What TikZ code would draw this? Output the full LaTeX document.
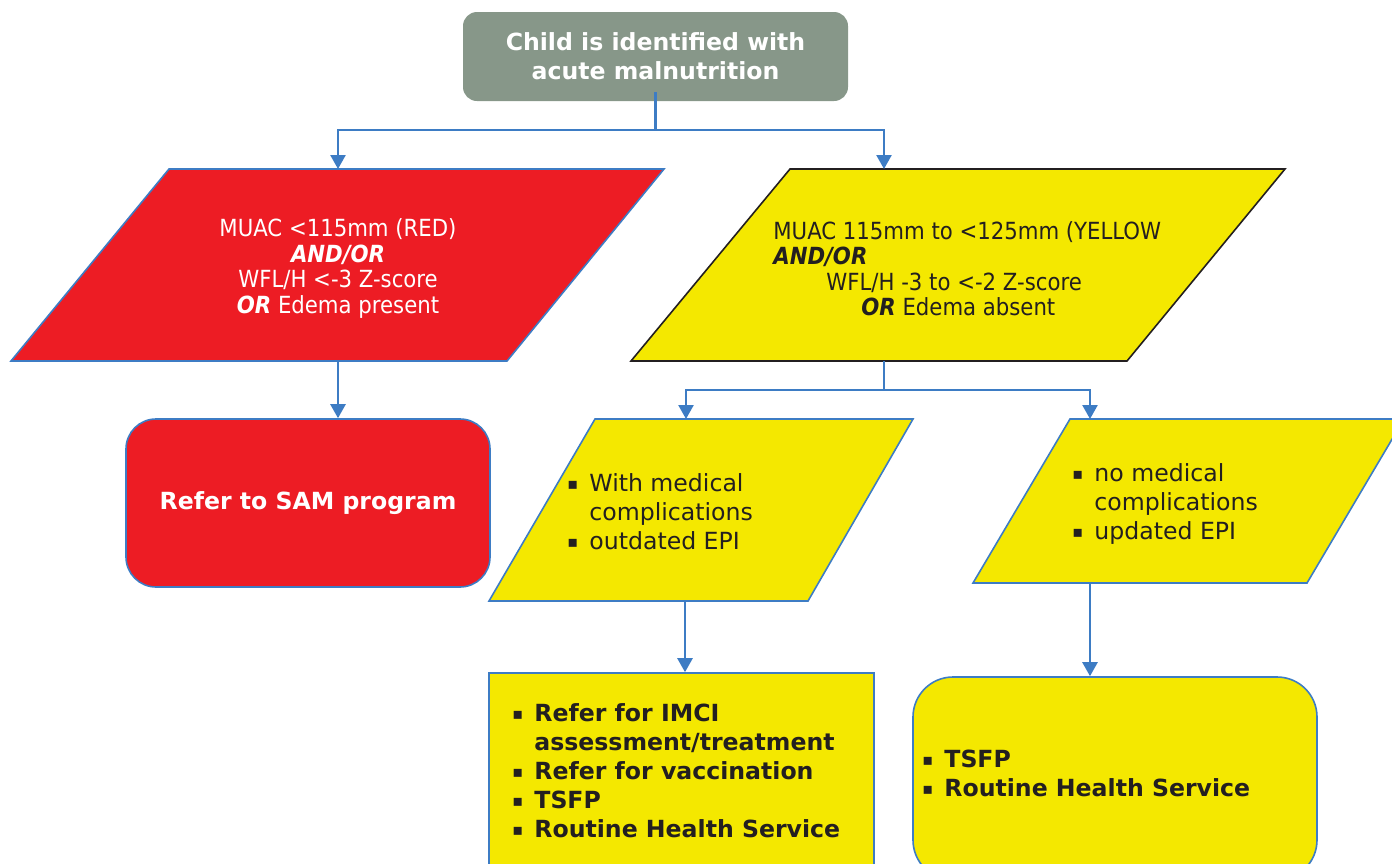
\documentclass[tikz,border=0pt]{standalone}
\usepackage{fontspec}
\setmainfont{DejaVu Sans}
\newfontfamily\condfont{DejaVu Sans Condensed}
\usetikzlibrary{arrows.meta}

\definecolor{boxgray}{HTML}{879789}
\definecolor{samred}{HTML}{ED1C24}
\definecolor{mamyellow}{HTML}{F4E800}
\definecolor{lineblue}{HTML}{3D7CC4}
\definecolor{ink}{HTML}{231F20}

% square list marker followed by the item text
\newcommand{\sqitem}{\makebox[11pt][l]{\raisebox{1pt}{\normalfont\fontsize{8}{8}\selectfont ▪}}}
\newcommand{\sqcont}{\hspace*{11pt}}

\begin{document}
\begin{tikzpicture}[x=0.5pt,y=-0.5pt,
  conn/.style={draw=lineblue,line width=1.25pt},
  arr/.style={conn,-{Triangle[width=7.5pt,length=7pt]}},
  topbox/.style={fill=boxgray,rounded corners=7pt,minimum width=192.5pt,minimum height=44.5pt,
    inner sep=0pt,text=white,align=center,font=\bfseries\fontsize{11.8}{14.5}\selectfont},
  bigpara/.style={line width=0.8pt},
  smallpara/.style={fill=mamyellow,draw=lineblue,line width=0.8pt},
  condtext/.style={inner sep=0pt,font=\condfont\fontsize{11.8}{12.75}\selectfont},
  listtext/.style={inner sep=0pt,text=ink,align=left,font=\fontsize{11.8}{14.5}\selectfont},
  boldlist/.style={listtext,font=\bfseries\fontsize{11.8}{14.5}\selectfont}]

\useasboundingbox (0,0) rectangle (1392,863);
\clip (0,0) rectangle (1392,863);

% start box
\node[topbox] (start) at (655.5,56.5) {Child is identified with\\acute malnutrition};

% severe branch (red) and moderate branch (yellow) criteria
\draw[bigpara,fill=samred,draw=lineblue] (169,169) -- (664,169) -- (507,361) -- (11,361) -- cycle;
\node[condtext,text=white,align=center] (samcrit) at (338,268.5)
  {MUAC <115mm (RED)\\\textbf{\textit{AND/OR}}\\WFL/H <-3 Z-score\\\textbf{\textit{OR}} Edema present};

\draw[bigpara,fill=mamyellow,draw=ink] (790,169) -- (1285,169) -- (1127,361) -- (631,361) -- cycle;
\node[condtext,text=ink,align=left,anchor=west] (mamcrit) at (773,268.5)
  {MUAC 115mm to <125mm (YELLOW\\\textbf{\textit{AND/OR}}\\\hspace*{26.5pt}WFL/H -3 to <-2 Z-score\\\hspace*{44pt}\textbf{\textit{OR}} Edema absent};

\coordinate (stemTop) at (655.5,92);
\coordinate (redIn) at (338,169);
\coordinate (redOut) at (338,361);
\coordinate (yelIn) at (884,169);
\coordinate (yelOut) at (884,361);
\coordinate (fork1) at (655.5,130);
\coordinate (fork2) at (884,390);

% outcome for severe cases
\node[fill=samred,draw=lineblue,line width=0.8pt,rounded corners=15pt,minimum width=182pt,minimum height=84pt,
  text=white,font=\bfseries\fontsize{11.8}{14.5}\selectfont] (sam) at (308,503) {Refer to SAM program};

% moderate cases split by complications
\draw[smallpara] (595,419) -- (913,419) -- (808,601) -- (489,601) -- cycle;
\node[listtext,anchor=west] (withcomp) at (567,512)
  {\sqitem With medical\\\sqcont complications\\\sqitem outdated EPI};
\coordinate (withIn) at (686,419);
\coordinate (withOut) at (685,601);

\draw[smallpara] (1070,419) -- (1404,419) -- (1307,583) -- (973,583) -- cycle;
\node[listtext,anchor=west] (nocomp) at (1072,503.5)
  {\sqitem no medical\\\sqcont complications\\\sqitem updated EPI};
\coordinate (noIn) at (1090,419);
\coordinate (noOut) at (1090,583);

% actions
\node[fill=mamyellow,draw=lineblue,line width=0.8pt,minimum width=192.5pt,minimum height=103.5pt] (actA) at (681.5,776.5) {};
\node[boldlist,anchor=west] (actAtext) at (512,770.5)
  {\sqitem Refer for IMCI\\\sqcont assessment/treatment\\\sqitem Refer for vaccination\\\sqitem TSFP\\\sqitem Routine Health Service};

\node[fill=mamyellow,draw=lineblue,line width=0.8pt,rounded corners=20pt,minimum width=202pt,minimum height=101.5pt] (actB) at (1115,778.5) {};
\node[boldlist,anchor=west] (actBtext) at (922,773.5)
  {\sqitem TSFP\\\sqitem Routine Health Service};

% connectors
\draw[conn] (stemTop) -- (fork1);
\draw[arr] (fork1) -| (redIn);
\draw[arr] (fork1) -| (yelIn);
\draw[arr] (redOut) -- (redOut |- sam.north);
\draw[conn] (yelOut) -- (fork2);
\draw[arr] (fork2) -| (withIn);
\draw[arr] (fork2) -| (noIn);
\draw[arr] (withOut) -- (withOut |- actA.north);
\draw[arr] (noOut) -- (noOut |- actB.north);
\end{tikzpicture}
\end{document}
